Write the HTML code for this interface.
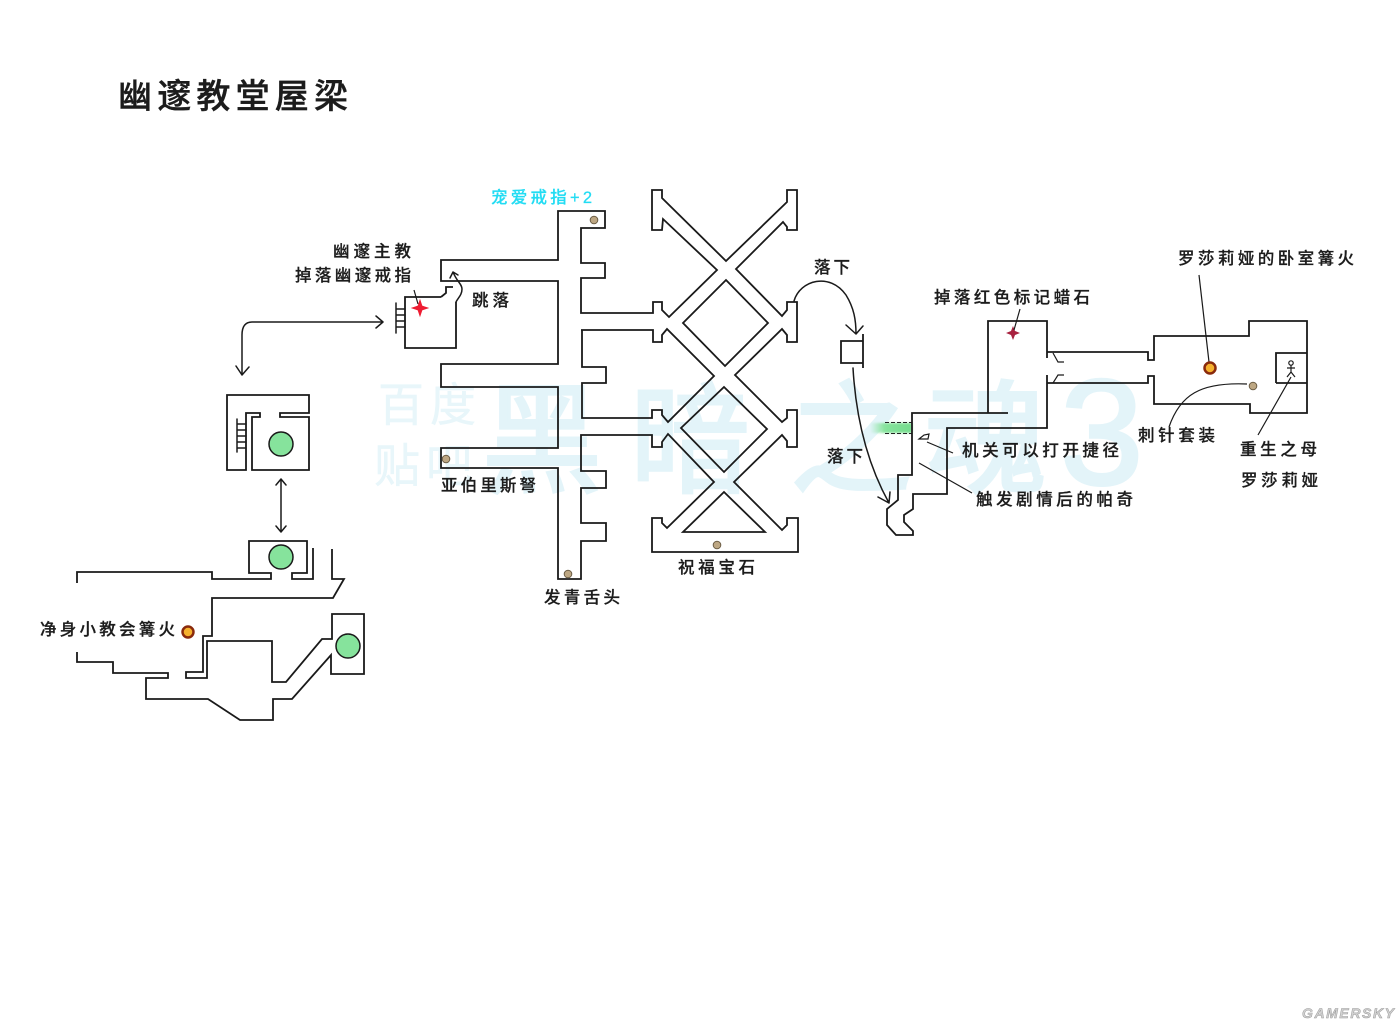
<!DOCTYPE html>
<html lang="zh"><head><meta charset="utf-8"><title>幽邃教堂屋梁</title>
<style>
html,body{margin:0;padding:0;background:#fff;width:1400px;height:1024px;overflow:hidden}
svg{display:block}
text{font-family:"Liberation Sans","Noto Sans CJK SC","WenQuanYi Zen Hei",sans-serif;fill:#1c1c1c;font-size:16.5px;font-weight:500;stroke:#1c1c1c;stroke-width:.25}
.w{fill:none;stroke:#1a1a1a;stroke-width:1.8;stroke-linejoin:miter}
.t{fill:none;stroke:#1a1a1a;stroke-width:1.2}
.a{fill:none;stroke:#1a1a1a;stroke-width:1.5;stroke-linecap:round;stroke-linejoin:round}
.g{fill:#86e39c;stroke:#1a1a1a;stroke-width:1.5}
.d{fill:#bda783;stroke:#6b5d45;stroke-width:1}
text.wm{fill:#e3f4f9;stroke:#e3f4f9;stroke-width:3;font-weight:400}
text.wn{fill:#e8f6fa;stroke:#e8f6fa;stroke-width:.5;font-weight:400;font-size:46px}
</style></head><body>
<svg width="1400" height="1024" viewBox="0 0 1400 1024" xmlns="http://www.w3.org/2000/svg">
<defs><linearGradient id="gr" x1="0" x2="1" y1="0" y2="0"><stop offset="0" stop-color="#86e39c" stop-opacity="0"/><stop offset=".35" stop-color="#86e39c"/><stop offset="1" stop-color="#74dc8c"/></linearGradient>
<filter id="bl" x="-50%" y="-50%" width="200%" height="200%"><feGaussianBlur stdDeviation="1"/></filter></defs>
<!-- watermark -->
<text class="wn" x="378" y="421" textLength="98">百度</text>
<text class="wn" x="374" y="482" textLength="98">贴吧</text>
<text class="wm" x="482" y="483" style="font-size:120px">黑</text>
<text class="wm" x="630" y="483" style="font-size:120px">暗</text>
<text class="wm" x="790" y="483" style="font-size:122px">之</text>
<text class="wm" x="925" y="483" style="font-size:122px">魂</text>
<text class="wm" x="1060" y="484" style="font-size:150px">3</text>

<!-- title -->
<text x="118" y="108" textLength="230" style="font-size:34px;font-weight:500;stroke-width:.4">幽邃教堂屋梁</text>

<!-- central map -->
<path class="w" d="M558 211H605V228H581V263H605V278H581V313H653V302H662V310L669 317L717 270L663 219L662 230H652V190H662V198L726 261L787 202V190H797V230H787V227L783 222L736 269L782 316L787 310V302H797V342H787V335L782 329L735 375L782 422L787 418V410H797V447H787V441L782 435L734 482L782 530L787 525V518H798V552H652V518H662V523L667 528L714 482L668 434L662 442V447H652V435H581V471H606V488H581V523H606V541H581V579H558V468H441V448H558V387H441V364H558V281H441V260H558Z"/>
<path class="w" d="M581 330H653V342H662V335L667 329L714 376L668 422L662 415V410H652V418H582V383H606V367H582V330"/>
<path class="w" d="M726 280L768 323L725 366L683 323Z"/>
<path class="w" d="M724 387L767 429L724 472L681 428Z"/>
<path class="w" d="M724 492L765 532H683Z"/>
<circle class="d" cx="594" cy="220" r="3.8"/><circle class="d" cx="446" cy="459" r="3.8"/><circle class="d" cx="568" cy="574" r="3.8"/><circle class="d" cx="717" cy="545" r="3.8"/>

<!-- boss room -->
<path class="w" d="M441 297H405V348H456V302"/>
<path class="w" d="M441 297L446 293V287H453"/>
<path class="a" d="M396 303V333M396 309H405M396 315H405M396 321H405M396 327H405"/>
<path class="a" d="M456 302C458 298 462 295 462 289C462 284 457 282 453 272M450 278L453 272L458 275"/>
<path class="t" d="M414 290L418 304"/>
<path d="M420 300L422 306L428 308L422 310L420 316L418 310L412 308L418 306Z" fill="#ee1c32" stroke="#ee1c32" stroke-width=".8"/>

<!-- lower-left map -->
<path class="a" d="M383 322H252Q242 322 242 335V375M236 366L242 375L249 367M376 316L383 322L376 328"/>
<path class="w" d="M227 395H309V413H280V417H309V470H252V417H260V413H246V470H227Z"/>
<path class="a" d="M237 419V452M237 424H246M237 430H246M237 436H246M237 442H246M237 448H246"/>
<circle class="g" cx="281" cy="444" r="12"/>
<path class="a" d="M281 479V532M276 485L281 479L286 485M276 526L281 532L286 526"/>
<path class="w" d="M313 548V579H292V573H307V541H249V573H271V579H212V572H77V583"/>
<circle class="g" cx="281" cy="557" r="12"/>
<path class="w" d="M332 549V579H344L333 598H212V636H203V672H186V678H207V641H272V682H286L322 639H332V614H364V674H331V655L292 699H273V720H240L208 699H146V678H168V673H113V662H77V652"/>
<circle class="g" cx="348" cy="646" r="12"/>
<circle cx="188" cy="632" r="5.5" fill="#f5b12e" stroke="#8a2a0c" stroke-width="2.5"/>

<!-- right map -->
<path class="a" d="M794 301C800 280 830 272 846 295C854 308 856 320 856 334M846 325L856 334L863 326"/>
<path class="w" d="M863 341H841V363H863M863 334V368"/>
<path class="a" d="M853 368C856 420 868 465 889 503M878 497L889 503L890 492"/>
<rect x="870" y="423" width="42" height="10" fill="url(#gr)" filter="url(#bl)"/>
<path d="M885 422.5H912M885 433.5H912" stroke="#222" stroke-width="1" stroke-dasharray="4 2" fill="none"/>
<path class="w" d="M1008 413H912V475H898V500L887 509V525L896 535H913V531L904 522V515L913 509V494H947V428H1047V375"/>
<path class="w" d="M988 413V321H1047V358"/>
<path class="w" d="M1047 352H1148V360H1154V336H1249V321H1307V413H1250V404H1154V376H1148V383H1047"/>
<path class="w" d="M1276 383V353H1307M1276 383H1307"/>
<path class="t" d="M1053 353L1058 362H1064M1053 383L1058 375H1064"/>
<path d="M1013 326L1015 331L1020 333L1015 335L1013 340L1011 335L1006 333L1011 331Z" fill="#a8213f"/>
<path class="t" d="M1020 309L1014 330M1199 275L1209 362M1247 384C1200 382 1180 395 1169 427M1291 377L1258 435M927 442L953 453M919 463L972 493"/>
<path class="t" d="M919 439L924 435L929 434L928 439Z"/>
<circle cx="1210" cy="368" r="5.5" fill="#f5b12e" stroke="#8a2a0c" stroke-width="2.5"/>
<circle class="d" cx="1253" cy="386" r="3.8"/>
<circle class="t" cx="1291" cy="363" r="2.2"/>
<path class="t" d="M1291 365V372L1287 377M1291 372L1295 377M1287 368H1295"/>

<!-- labels -->
<text x="491" y="203" textLength="101" style="fill:#22dcf3;stroke:#22dcf3">宠爱戒指+2</text>
<text x="333" y="257" textLength="78">幽邃主教</text>
<text x="295" y="281" textLength="116">掉落幽邃戒指</text>
<text x="472" y="306" textLength="37">跳落</text>
<text x="441" y="491" textLength="95">亚伯里斯弩</text>
<text x="544" y="603" textLength="76">发青舌头</text>
<text x="678" y="573" textLength="77">祝福宝石</text>
<text x="814" y="273" textLength="36">落下</text>
<text x="827" y="462" textLength="36">落下</text>
<text x="934" y="303" textLength="156">掉落红色标记蜡石</text>
<text x="1178" y="264" textLength="176">罗莎莉娅的卧室篝火</text>
<text x="1138" y="441" textLength="77">刺针套装</text>
<text x="962" y="456" textLength="157">机关可以打开捷径</text>
<text x="976" y="505" textLength="157">触发剧情后的帕奇</text>
<text x="1240" y="455" textLength="77">重生之母</text>
<text x="1241" y="486" textLength="77">罗莎莉娅</text>
<text x="40" y="635" textLength="135">净身小教会篝火</text>
<text x="1302" y="1018" textLength="92" style="font-size:14px;font-weight:700;font-style:italic;fill:#d2d2d2;stroke:#9a9a9a;stroke-width:.5">GAMERSKY</text>
</svg>
</body></html>
